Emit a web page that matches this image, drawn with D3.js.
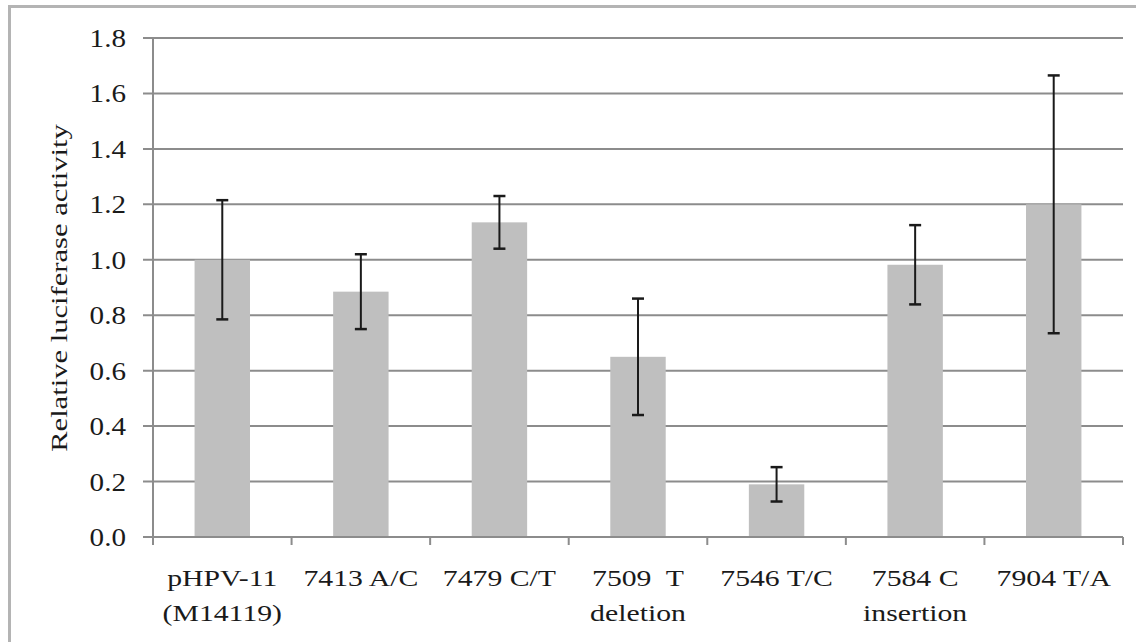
<!DOCTYPE html>
<html>
<head>
<meta charset="utf-8">
<script src="https://cdn.jsdelivr.net/npm/d3@7"></script>
<style>
  body { margin: 0; background: #fff; }
  svg text { font-family: "Liberation Serif", "Times New Roman", serif; fill: #1a1a1a; white-space: pre; }
</style>
</head>
<body>
<div id="chart"></div>
<script>
// data
var categories = ["pHPV-11\n(M14119)", "7413 A/C", "7479 C/T", "7509  T\ndeletion", "7546 T/C", "7584 C\ninsertion", "7904 T/A"];
var means = [1.0, 0.885, 1.135, 0.65, 0.19, 0.982, 1.2];
var errs = [0.215, 0.135, 0.095, 0.21, 0.062, 0.143, 0.465];
var yTicks = [0, 0.2, 0.4, 0.6, 0.8, 1.0, 1.2, 1.4, 1.6, 1.8];
var yTitle = "Relative luciferase activity";

var W = 1143, H = 642;
var margin = {left: 153, top: 38, right: 20, bottom: 105};
var width = W - margin.left - margin.right;
var height = H - margin.top - margin.bottom;
var textStretch = 1.24;

var svg = d3.select("#chart").append("svg")
  .attr("width", W)
  .attr("height", H);

// outer frame (only top and left edges are visible)
svg.append("path")
  .attr("d", "M9.5," + H + " V6.5 H1136")
  .attr("fill", "none")
  .attr("stroke", "#b4b4b4")
  .attr("stroke-width", 3);

var g = svg.append("g").attr("transform", "translate(" + margin.left + "," + margin.top + ")");

var x = d3.scaleBand().domain(categories).range([0, width]).paddingInner(0.6).paddingOuter(0.3);
var y = d3.scaleLinear().domain([0, 1.8]).range([height, 0]);

//grid
g.selectAll(".grid").data(yTicks).enter().append("line")
  .attr("x1", -10)
  .attr("x2", width)
  .attr("y1", function(d) { return y(d); })
  .attr("y2", function(d) { return y(d); })
  .attr("stroke", "#8c8c8c")
  .attr("stroke-width", 2);

// y tick labels
g.selectAll(".ylab").data(yTicks).enter().append("text")
  .attr("transform", function(d) { return "translate(-27," + (y(d) + 9) + ") scale(1.12,1)"; })
  .attr("text-anchor", "end")
  .style("font-size", "26px")
  .text(d3.format(".1f"));

//bars
g.selectAll(".bar").data(means).enter().append("rect")
  .attr("x", function(d, i) { return x(categories[i]); })
  .attr("width", x.bandwidth())
  .attr("y", function(d) { return y(d); })
  .attr("height", function(d) { return height - y(d); })
  .attr("fill", "#bfbfbf");

// axes lines
g.append("line")
  .attr("x1", 0).attr("x2", 0).attr("y1", 0).attr("y2", height)
  .attr("stroke", "#8c8c8c").attr("stroke-width", 2);
g.append("line")
  .attr("x1", -10).attr("x2", width).attr("y1", height).attr("y2", height)
  .attr("stroke", "#8c8c8c").attr("stroke-width", 2);

// x ticks at category boundaries
var bounds = d3.range(categories.length + 1);
g.selectAll(".xtick").data(bounds).enter().append("line")
  .attr("x1", function(d) { return d * width / categories.length; })
  .attr("x2", function(d) { return d * width / categories.length; })
  .attr("y1", height)
  .attr("y2", height + 8)
  .attr("stroke", "#8c8c8c")
  .attr("stroke-width", 2);

//error bars
var eb = g.selectAll(".err").data(means).enter().append("g")
  .attr("transform", function(d, i) { return "translate(" + (x(categories[i]) + x.bandwidth() / 2) + ",0)"; });
eb.append("line")
  .attr("y1", function(d, i) { return y(d + errs[i]); })
  .attr("y2", function(d, i) { return y(d - errs[i]); })
  .attr("stroke", "#1a1a1a").attr("stroke-width", 2);
eb.append("line")
  .attr("x1", -6).attr("x2", 6)
  .attr("y1", function(d, i) { return y(d + errs[i]); })
  .attr("y2", function(d, i) { return y(d + errs[i]); })
  .attr("stroke", "#1a1a1a").attr("stroke-width", 2.5);
eb.append("line")
  .attr("x1", -6).attr("x2", 6)
  .attr("y1", function(d, i) { return y(d - errs[i]); })
  .attr("y2", function(d, i) { return y(d - errs[i]); })
  .attr("stroke", "#1a1a1a").attr("stroke-width", 2.5);

// x labels
var xl = g.selectAll(".xlab").data(categories).enter().append("text")
  .attr("transform", function(d) { return "translate(" + (x(d) + x.bandwidth() / 2) + "," + (height + 49) + ") scale(" + textStretch + ",1)"; })
  .attr("text-anchor", "middle")
  .style("font-size", "24px");
xl.each(function(d) {
  var lines = d.split("\n");
  var t = d3.select(this);
  lines.forEach(function(l, k) {
    t.append("tspan").attr("x", 0).attr("dy", k === 0 ? 0 : 35).text(l);
  });
});

// y title
svg.append("text")
  .attr("transform", "translate(67," + 288 + ") rotate(-90) scale(1.33,1)")
  .attr("text-anchor", "middle")
  .style("font-size", "23px")
  .text(yTitle);
</script>
</body>
</html>
